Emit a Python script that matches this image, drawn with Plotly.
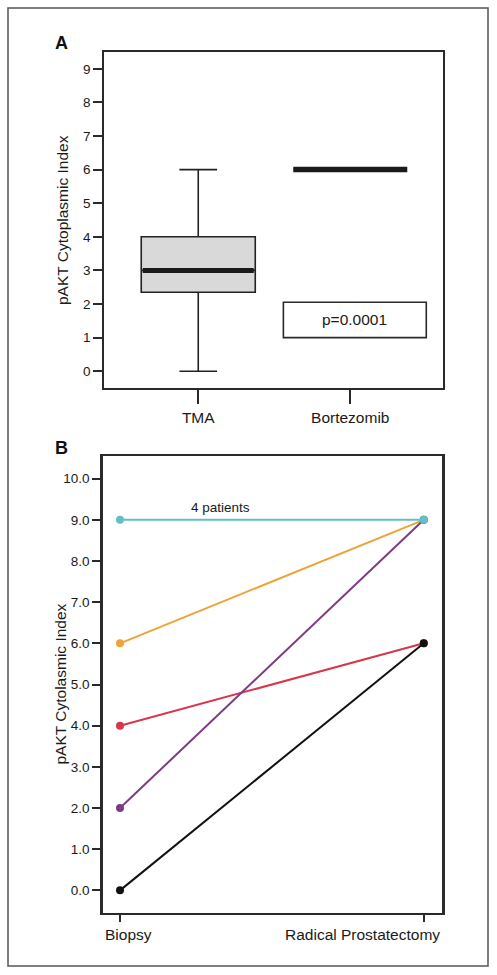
import plotly.graph_objects as go

# ---------- Panel A data ----------
groups_a = ["TMA", "Bortezomib"]
tma_min, tma_q1, tma_median, tma_q3, tma_max = 0, 2.35, 3, 4, 6
bort_value = 6
p_text = "p=0.0001"
p_box_y = [1.0, 2.05]
title_a = "pAKT Cytoplasmic Index"

# ---------- Panel B data ----------
timepoints = ["Biopsy", "Radical Prostatectomy"]
patient_labels = ["4 patients", "", "", "", ""]
biopsy_vals = [9, 6, 4, 2, 0]
rp_vals = [9, 9, 6, 9, 6]
line_colors = ["#62bfc6", "#f0a236", "#d8364c", "#7e3b82", "#111111"]
title_b = "pAKT Cytolasmic Index"

FONT = "Liberation Sans, Arial, sans-serif"
FS = 15.5
TFS = 13.5
W, H = 497, 975

fig = go.Figure()

box_w = 0.75
pos_a = [0, 1]
# TMA box
fig.add_trace(go.Box(
    x=[pos_a[0]], q1=[tma_q1], median=[tma_median], q3=[tma_q3],
    lowerfence=[tma_min], upperfence=[tma_max],
    fillcolor="#d9d9d9", line=dict(color="#222222", width=1.6),
    whiskerwidth=0.33, width=box_w, boxpoints=False,
    xaxis="x", yaxis="y", showlegend=False, hoverinfo="skip"))
# thick median
fig.add_trace(go.Scatter(
    x=[pos_a[0] - box_w / 2 + 0.01, pos_a[0] + box_w / 2 - 0.01], y=[tma_median, tma_median],
    mode="lines", line=dict(color="#1a1a1a", width=5),
    xaxis="x", yaxis="y", showlegend=False, hoverinfo="skip"))
# Bortezomib (all equal) as thick line
fig.add_trace(go.Scatter(
    x=[pos_a[1] - box_w / 2, pos_a[1] + box_w / 2], y=[bort_value, bort_value],
    mode="lines", line=dict(color="#1a1a1a", width=5.5),
    xaxis="x", yaxis="y", showlegend=False, hoverinfo="skip"))

# Panel B lines
order = [1, 2, 3, 4, 0]
for i in order:
    fig.add_trace(go.Scatter(
        x=[0, 1], y=[biopsy_vals[i], rp_vals[i]],
        mode="lines+markers",
        line=dict(color=line_colors[i], width=2),
        marker=dict(color=line_colors[i], size=8),
        xaxis="x2", yaxis="y2", showlegend=False, hoverinfo="skip"))

axis_common = dict(showline=True, mirror=True, linecolor="#2a2a2a", linewidth=1.8,
                   showgrid=False, zeroline=False, ticks="outside", tickcolor="#2a2a2a",
                   tickwidth=1.5)

fig.update_layout(
    width=W, height=H, margin=dict(l=0, r=0, t=0, b=0),
    paper_bgcolor="white", plot_bgcolor="white",
    font=dict(family=FONT, size=FS, color="#1a1a1a"),
    xaxis=dict(domain=[104 / W, 443 / W], anchor="y",
               tickvals=pos_a, ticktext=groups_a,
               range=[-0.62, 1.61], ticklen=14,
               tickfont=dict(family=FONT, size=FS, color="#1a1a1a"), **axis_common),
    yaxis=dict(domain=[1 - 388 / H, 1 - 52 / H], anchor="x", range=[-0.5, 9.5],
               tickmode="linear", tick0=0, dtick=1, ticklen=9,
               tickfont=dict(family=FONT, size=TFS, color="#1a1a1a"), **axis_common),
    xaxis2=dict(domain=[103 / W, 442 / W], anchor="y2", range=[-0.056, 1.06],
                tickvals=[0, 1], ticktext=["", ""], ticklen=7, **axis_common),
    yaxis2=dict(domain=[1 - 913 / H, 1 - 456 / H], anchor="x2", range=[-0.55, 10.55],
                tickmode="linear", tick0=0, dtick=1, tickformat=".1f", ticklen=8,
                tickfont=dict(family=FONT, size=TFS, color="#1a1a1a"), **axis_common),
)
fig.update_yaxes(linewidth=2.5, selector=dict(anchor="x2"))

# outer frame
fig.add_shape(type="rect", xref="paper", yref="paper",
              x0=8 / W, x1=488 / W, y0=1 - 966 / H, y1=1 - 8 / H,
              line=dict(color="#555555", width=1.5), fillcolor="rgba(0,0,0,0)")
# p-value box
fig.add_shape(type="rect", xref="x", yref="y", x0=0.56, x1=1.5,
              y0=p_box_y[0], y1=p_box_y[1],
              line=dict(color="#2a2a2a", width=1.6), fillcolor="white")

annotations = [
    dict(text="<b>A</b>", xref="paper", yref="paper", x=61 / W, y=1 - 43 / H,
         xanchor="center", yanchor="middle",
         showarrow=False, font=dict(family=FONT, size=18, color="#111")),
    dict(text="<b>B</b>", xref="paper", yref="paper", x=61 / W, y=1 - 448 / H,
         xanchor="center", yanchor="middle",
         showarrow=False, font=dict(family=FONT, size=18, color="#111")),
    dict(text=title_a, xref="paper", yref="y domain", x=62 / W, y=0.5,
         xanchor="center", yanchor="middle",
         textangle=-90, showarrow=False, font=dict(family=FONT, size=FS)),
    dict(text=title_b, xref="paper", yref="y2 domain", x=60 / W, y=0.5,
         xanchor="center", yanchor="middle",
         textangle=-90, showarrow=False, font=dict(family=FONT, size=FS)),
    dict(text=p_text, xref="x", yref="y", x=1.03, y=sum(p_box_y) / 2,
         showarrow=False, font=dict(family=FONT, size=FS)),
    dict(text=patient_labels[0], xref="x2", yref="y2", x=0.33, y=biopsy_vals[0],
         yshift=12, showarrow=False, font=dict(family=FONT, size=13.5)),
    dict(text=timepoints[0], xref="x2 domain", yref="y2 domain", x=0, y=0,
         xanchor="left", yanchor="middle", yshift=-21, showarrow=False,
         font=dict(family=FONT, size=FS)),
    dict(text=timepoints[1], xref="x2 domain", yref="y2 domain", x=1, y=0,
         xanchor="right", yanchor="middle", yshift=-21, showarrow=False,
         font=dict(family=FONT, size=FS)),
]
fig.update_layout(annotations=annotations)

fig.write_html("out.html", config={"displayModeBar": False},
               post_script="document.body.style.margin='0px';")
